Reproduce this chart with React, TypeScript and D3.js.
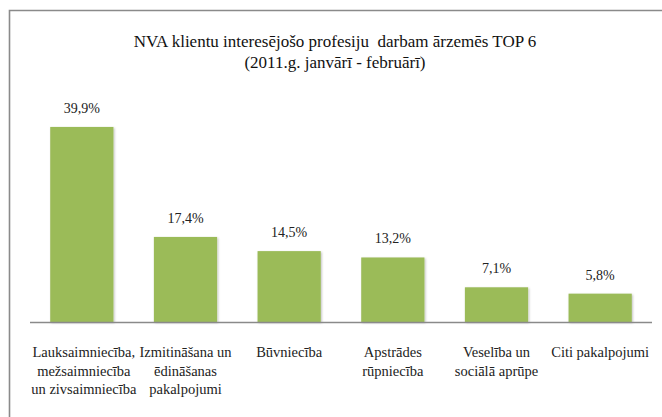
import React from 'react';
import * as d3 from 'd3';

const categories = [
  ['Lauksaimniecība,', 'mežsaimniecība', 'un zivsaimniecība'],
  ['Izmitināšana un', 'ēdināšanas', 'pakalpojumi'],
  ['Būvniecība'],
  ['Apstrādes', 'rūpniecība'],
  ['Veselība un', 'sociālā aprūpe'],
  ['Citi pakalpojumi'],
];
const values = [39.9, 17.4, 14.5, 13.2, 7.1, 5.8];
const valueLabels = ['39,9%', '17,4%', '14,5%', '13,2%', '7,1%', '5,8%'];
const titleLines = ['NVA klientu interesējošo profesiju  darbam ārzemēs TOP 6', '(2011.g. janvārī - februārī)'];

const width = 662;
const height = 417;
const font = "'Liberation Serif', 'Times New Roman', Times, 'DejaVu Serif', serif";

export default function App() {
  const x = d3.scaleBand<number>()
    .domain(d3.range(values.length))
    .range([30, 652])
    .paddingInner(0.39)
    .paddingOuter(0.195);
  const y = d3.scaleLinear().domain([0, 45]).range([322, 102]);

  return (
    <div style={{ position: 'fixed', left: 0, top: 0 }}>
      <svg width={width} height={height} style={{ display: 'block', background: '#fff', fontFamily: font }}>
        <defs>
          <filter id="sh" x="-20%" y="-20%" width="140%" height="140%">
            <feDropShadow dx="1" dy="1" stdDeviation="1" floodColor="#000" floodOpacity="0.25" />
          </filter>
        </defs>
        <path d={`M9.5,${height} V10.5 H${width}`} fill="none" stroke="#8a8a8a" strokeWidth={1.6} />
        {titleLines.map((t, i) => (
          <text key={i} x={335} y={47 + i * 21} textAnchor="middle" style={{ fontFamily: font, whiteSpace: 'pre' }} fontSize={17} fill="#111">
            {t}
          </text>
        ))}
        {values.map((v, i) => (
          <g key={i}>
            <rect
              x={x(i)}
              y={y(v)}
              width={x.bandwidth()}
              height={y(0) - y(v)}
              fill="#9bbb59"
              filter="url(#sh)"
            />
            <text
              x={(x(i) ?? 0) + x.bandwidth() / 2}
              y={y(v) - 14}
              textAnchor="middle"
              style={{ fontFamily: font }}
              fontSize={14}
              fill="#222"
            >
              {valueLabels[i]}
            </text>
            {categories[i].map((line, j) => (
              <text
                key={j}
                x={(x(i) ?? 0) + x.bandwidth() / 2 + (i === 0 ? 2 : 0)}
                y={357 + j * 18.5}
                textAnchor="middle"
                style={{ fontFamily: font }}
                fontSize={14.5}
                fill="#222"
              >
                {line}
              </text>
            ))}
          </g>
        ))}
        <line x1={30} x2={652} y1={y(0) + 0.5} y2={y(0) + 0.5} stroke="#8a8a8a" strokeWidth={1.5} />
      </svg>
    </div>
  );
}
